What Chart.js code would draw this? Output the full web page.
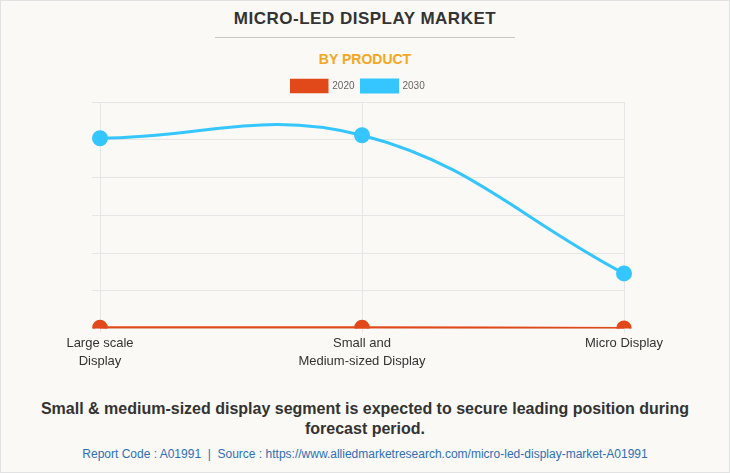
<!DOCTYPE html>
<html>
<head>
<meta charset="utf-8">
<script src="https://cdn.jsdelivr.net/npm/chart.js@4.4.0/dist/chart.umd.min.js"></script>
<style>
html,body{margin:0;padding:0;}
body{width:730px;height:473px;background:#faf9f5;position:relative;overflow:hidden;font-family:"Liberation Sans",Arial,sans-serif;}
#frame{position:absolute;left:0;top:0;width:728px;height:471px;border:1px solid #e2e2e2;}
#title{position:absolute;left:0;width:730px;top:9px;text-align:center;font-weight:bold;font-size:17px;color:#333;letter-spacing:0.5px;}
#rule{position:absolute;left:215px;top:37px;width:300px;height:1px;background:#c8c8c8;}
#sub{position:absolute;left:0;width:730px;top:51px;text-align:center;font-weight:bold;font-size:14px;color:#f5a623;}
#wrap{position:absolute;left:0;top:73px;width:730px;height:300px;}
#caption{position:absolute;left:0;width:730px;top:399px;text-align:center;font-weight:bold;font-size:16px;line-height:20px;color:#333;}
#src{position:absolute;left:0;width:730px;top:447px;text-align:center;font-size:12px;color:#2f6eb5;}
</style>
</head>
<body>
<div id="frame"></div>
<div id="title">MICRO-LED DISPLAY MARKET</div>
<div id="rule"></div>
<div id="sub">BY PRODUCT</div>
<div id="wrap"><canvas id="productChart"></canvas></div>
<div id="caption">Small &amp; medium-sized display segment is expected to secure leading position during<br>forecast period.</div>
<div id="src">Report Code : A01991&nbsp; | &nbsp;Source : https://www.alliedmarketresearch.com/micro-led-display-market-A01991</div>
<script>
const productNames = [["Large scale","Display"],["Small and","Medium-sized Display"],"Micro Display"];
const sales2020 = [0.03, 0.03, 0.01];
const sales2030 = [5.04, 5.12, 1.46];

new Chart("productChart",{
type:"line",
data:{
labels:productNames,
datasets:[{
label:"2020",
data:sales2020,
borderColor:"#e2491a",
backgroundColor:"#e2491a",
borderWidth:2.5,
pointRadius:6.5,
pointHoverRadius:6.5,
tension:0.4
},{
label:"2030",
data:sales2030,
borderColor:"#35c6ff",
backgroundColor:"#35c6ff",
borderWidth:3,
pointRadius:6.5,
pointHoverRadius:6.5,
tension:0.4
}]
},
options:{
responsive:true,
maintainAspectRatio:false,
animation:false,
layout:{padding:{left:92,right:106,top:0,bottom:0}},
plugins:{
legend:{
display:true,
labels:{boxWidth:36,boxHeight:12,font:{size:10,family:"Liberation Sans"},color:"#666",padding:7}
},
tooltip:{enabled:false}
},
scales:{
x:{
offset:false,
grid:{color:"#e6e6e6",tickLength:4},
border:{display:false},
ticks:{color:"#333",font:{size:13,family:"Liberation Sans",lineHeight:1.4},maxRotation:0,padding:2}
},
y:{
min:0,max:6,
ticks:{display:false,stepSize:1},
grid:{color:"#e6e6e6",tickLength:8},
border:{display:false}
}
}
}
});
</script>
</body>
</html>
